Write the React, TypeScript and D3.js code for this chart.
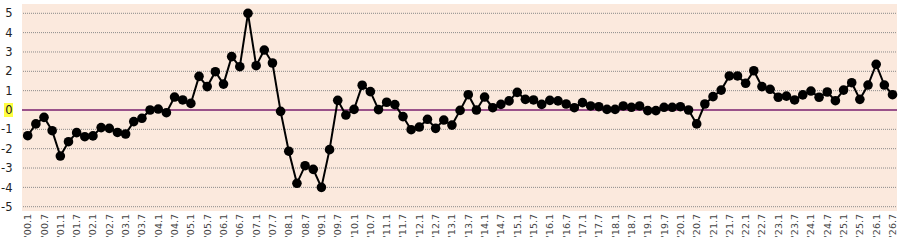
import { useMemo } from "react";
import * as d3 from "d3";

// quarterly values, '00.1 .. '26.7
const values = [
  -1.33, -0.72, -0.38, -1.07, -2.38, -1.64, -1.17, -1.38, -1.34, -0.91,
  -0.95, -1.16, -1.24, -0.6, -0.43, 0, 0.05, -0.14, 0.67, 0.52,
  0.34, 1.74, 1.21, 1.98, 1.34, 2.76, 2.24, 5.0, 2.29, 3.1,
  2.43, -0.07, -2.13, -3.79, -2.88, -3.07, -4.0, -2.05, 0.5, -0.26,
  0.03, 1.28, 0.95, 0.02, 0.4, 0.28, -0.34, -1.02, -0.88, -0.48,
  -0.95, -0.52, -0.78, -0.02, 0.79, 0, 0.67, 0.12, 0.29, 0.47,
  0.91, 0.55, 0.52, 0.29, 0.5, 0.47, 0.31, 0.12, 0.38, 0.21,
  0.17, 0.03, 0.03, 0.21, 0.14, 0.21, -0.03, -0.03, 0.14, 0.14,
  0.17, 0, -0.72, 0.31, 0.69, 1.03, 1.76, 1.76, 1.38, 2.03,
  1.21, 1.07, 0.66, 0.72, 0.52, 0.78, 0.98, 0.66, 0.93, 0.48,
  1.03, 1.41, 0.55, 1.29, 2.36, 1.29, 0.79,
];

const years = [
  "00", "01", "02", "03", "04", "05", "06", "07", "08", "09",
  "10", "11", "12", "13", "14", "15", "16", "17", "18", "19",
  "20", "21", "22", "23", "24", "25", "26",
];
const months = ["1", "7"];

const yTicks = [5, 4, 3, 2, 1, 0, -1, -2, -3, -4, -5];

const W = 900;
const H = 241;

export default function App() {
  const x = useMemo(
    () => d3.scaleLinear().domain([0, values.length - 1]).range([27.7, 892.5]),
    []
  );
  const y = useMemo(
    () => d3.scaleLinear().domain([-5, 5]).range([206.7, 13.3]),
    []
  );

  // one label every half year
  const xLabels = years.flatMap((yy) => months.map((m) => `'${yy}.${m}`));

  const line = d3
    .line<number>()
    .x((_, i) => x(i))
    .y((d) => y(d));

  return (
    <svg
      width={W}
      height={H}
      style={{ position: "absolute", left: 0, top: 0 }}
      fontFamily="'DejaVu Sans', Verdana, sans-serif"
    >
      <rect x={22} y={4} width={875} height={207} fill="#fbe9dd" />

      {/* grid */}
      {yTicks.map((t) =>
        t === 0 ? null : (
          <line
            key={t}
            x1={23}
            x2={896}
            y1={y(t)}
            y2={y(t)}
            stroke="#8a8a8a"
            strokeWidth={1}
            strokeDasharray="1,1"
          />
        )
      )}
      <line x1={22} x2={897} y1={y(0)} y2={y(0)} stroke="#7a1f6e" strokeWidth={1.5} />

      {/* y labels */}
      <rect x={4} y={y(0) - 7} width={9} height={14} fill="#ffff40" />
      {yTicks.map((t) => (
        <text
          key={t}
          x={12.5}
          y={y(t)}
          dy="0.36em"
          textAnchor="end"
          fontSize={11.5}
          fill="#222"
        >
          {t}
        </text>
      ))}

      {/* x labels */}
      {xLabels.map((lbl, i) => (
        <text
          key={lbl}
          transform={`translate(${x(i * 2) + 3.5},214) rotate(-90)`}
          textAnchor="end"
          fontSize={9.5}
          fill="#444"
        >
          {lbl}
        </text>
      ))}

      <path d={line(values) ?? ""} fill="none" stroke="#000" strokeWidth={2} />
      {values.map((v, i) => (
        <circle key={i} cx={x(i)} cy={y(v)} r={4.8} fill="#000" />
      ))}
    </svg>
  );
}
